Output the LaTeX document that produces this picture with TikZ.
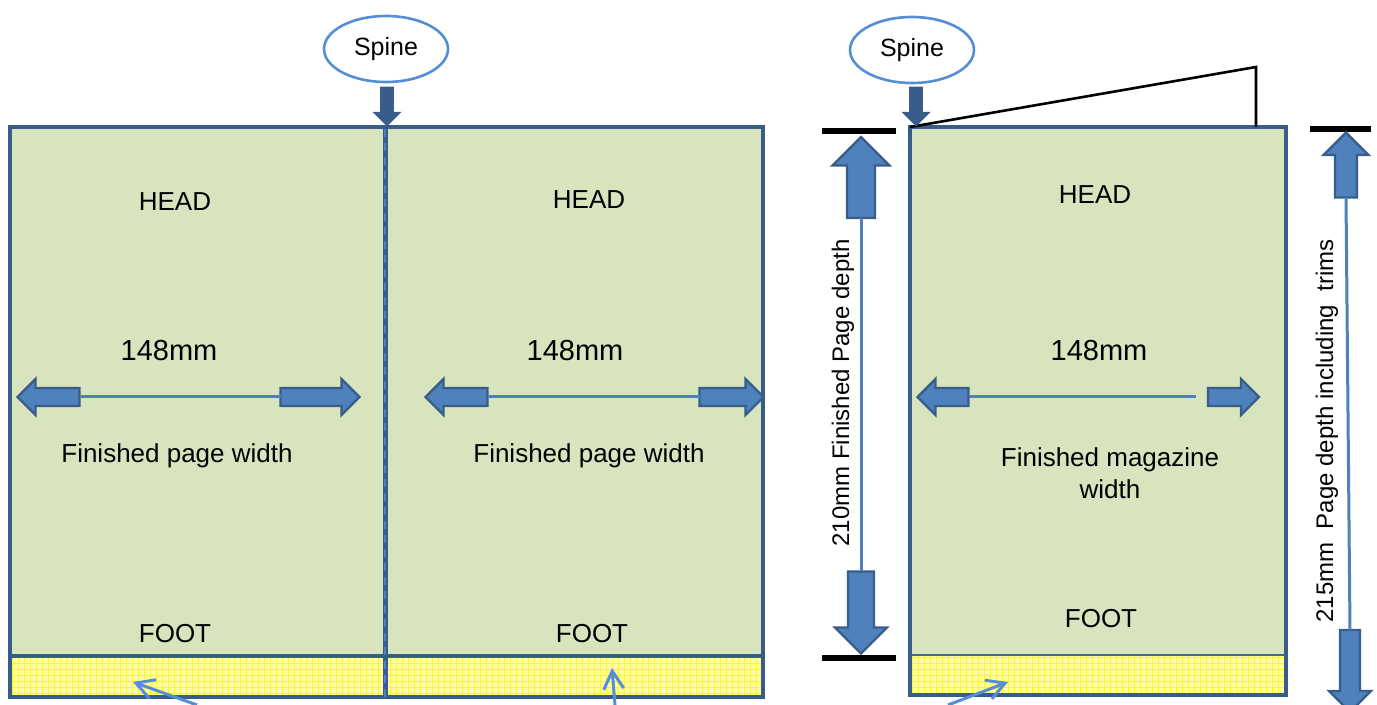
\documentclass[tikz,border=0pt]{standalone}
\usepackage{fontspec}
\setmainfont{Liberation Sans}
\usetikzlibrary{shapes.arrows,shapes.geometric,patterns,arrows.meta}
\definecolor{pagegreen}{HTML}{D7E4BD}
\definecolor{framblue}{HTML}{385D8A}
\definecolor{arrblue}{HTML}{4F81BD}
\definecolor{ellblue}{HTML}{558ED5}
\definecolor{trimyellow}{HTML}{FFFFA0}
\tikzset{
  blockarr/.style n args={3}{single arrow, draw=framblue, fill=arrblue, line width=1.2pt,
    inner xsep=0pt, inner ysep=#2, single arrow head extend=#3, minimum height=#1, outer sep=0pt},
  spinebox/.style={ellipse, draw=ellblue, line width=1.3pt, fill=white, minimum width=62pt,
    minimum height=33pt, font=\fontsize{12.5}{14}\selectfont},
  lbl/.style={font=\fontsize{13}{16}\selectfont, inner sep=0pt},
  mmlbl/.style={font=\fontsize{14.5}{17}\selectfont, inner sep=0pt},
  dimlbl/.style={font=\fontsize{12}{14}\selectfont, rotate=90, inner sep=0pt},
  dimline/.style={draw=arrblue, line width=1.5pt},
  pointer/.style={draw=ellblue, line width=1.5pt, -{Straight Barb[length=9pt,width=10pt]}},
  trimstrip/.style={preaction={fill=trimyellow}, pattern=grid, pattern color=yellow},
}
\begin{document}
\begin{tikzpicture}[line join=miter,x=0.5pt,y=-0.5pt]
  \useasboundingbox (0,0) rectangle (1377,705);
  % two page spread
  \fill[pagegreen] (10,127) rectangle (763,657);
  \path[trimstrip] (10,657) rectangle (763,697);
  \draw[framblue,line width=2.2pt] (10,656) -- (763,656);
  \draw[framblue,line width=2.2pt] (10,127) rectangle (763,697);
  \draw[framblue,line width=2.5pt] (385,127) -- (385,697);
  \draw[arrblue,line width=1pt,dash pattern=on 4pt off 3pt] (385,129) -- (385,697);
  % single page
  \fill[pagegreen] (910,127) rectangle (1286,655);
  \path[trimstrip] (910,655) rectangle (1286,695);
  \draw[arrblue!80!black,line width=0.6pt] (910,655) -- (1286,655);
  \draw[framblue,line width=1.6pt] (910,127) rectangle (1286,695);
  \draw[line width=1.3pt] (910,127) -- (1256,67) -- (1256,127);

  \node[spinebox] (spineA) at (386,49) {Spine};
  \node[spinebox] (spineB) at (912,50) {Spine};
  \node[blockarr={18.5pt}{2.2pt}{3pt}, fill=framblue, rotate=-90] (spineArrA) at (387,103.5) {};
  \node[blockarr={18.5pt}{2.2pt}{3pt}, fill=framblue, rotate=-90] (spineArrB) at (916,103.5) {};

  \foreach \n/\x/\y in {A/175/202, B/589/200, C/1095/195}
    \node[lbl] (head\n) at (\x,\y) {HEAD};
  \foreach \n/\x/\y in {A/175/634, B/592/634, C/1101/619}
    \node[lbl] (foot\n) at (\x,\y) {FOOT};
  \foreach \n/\x in {A/169, B/575, C/1099}
    \node[mmlbl] (mm\n) at (\x,351) {148mm};
  \node[lbl] (widthA) at (177,456) {Finished page width};
  \node[lbl] (widthB) at (589,456) {Finished page width};
  \node[lbl,align=center] (widthC) at (1110,473) {Finished magazine\\width};

  % width arrows
  \node[blockarr={31pt}{3.9pt}{4.5pt}, rotate=180] (leftA) at (53,397) {};
  \node[blockarr={39.5pt}{3.9pt}{4.5pt}] (rightA) at (315.5,397) {};
  \draw[dimline] (leftA.tail) -- (rightA.tail);
  \node[blockarr={31pt}{3.9pt}{4.5pt}, rotate=180] (leftB) at (461,397) {};
  \node[blockarr={32pt}{3.9pt}{4.5pt}] (rightB) at (727,397) {};
  \draw[dimline] (leftB.tail) -- (rightB.tail);
  \node[blockarr={25.5pt}{3.9pt}{4.5pt}, rotate=180] (leftC) at (947.5,397) {};
  \node[blockarr={25.5pt}{3.9pt}{4.5pt}] (rightC) at (1229,397) {};
  \coordinate (lineendC) at (1196,397);
  \draw[dimline] (leftC.tail) -- (lineendC);

  % depth, finished page
  \draw[line width=2.6pt] (822,131) -- (896,131);
  \draw[line width=2.6pt] (822,658) -- (896,658);
  \node[blockarr={40.5pt}{6.4pt}{7.25pt}, rotate=90] (depthUp) at (861,184.5) {};
  \node[blockarr={41pt}{5.9pt}{6.5pt}, rotate=-90] (depthDown) at (861,606) {};
  \draw[dimline] (depthUp.tail) -- (depthDown.tail);
  \node[dimlbl] (depthlbl) at (843,393) {210mm Finished Page depth};

  % depth including trims
  \draw[line width=2.6pt] (1310,129) -- (1371,129);
  \node[blockarr={32.5pt}{4.9pt}{5.75pt}, rotate=90] (trimUp) at (1346,170.5) {};
  \node[blockarr={41pt}{4.4pt}{5.5pt}, rotate=-90] (trimDown) at (1350,666) {};
  \draw[dimline] (trimUp.tail) -- (trimDown.tail);
  \node[dimlbl] (trimlbl) at (1327,431) {215mm\ \ Page depth including\ \ trims};

  % pointers into the trim strip
  \coordinate (tailA) at (197,705); \coordinate (tipA) at (133,682);
  \coordinate (tailB) at (615,705); \coordinate (tipB) at (612,668);
  \coordinate (tailC) at (948,705); \coordinate (tipC) at (1008,682);
  \foreach \n in {A,B,C}
    \draw[pointer] (tail\n) -- (tip\n);
\end{tikzpicture}
\end{document}
